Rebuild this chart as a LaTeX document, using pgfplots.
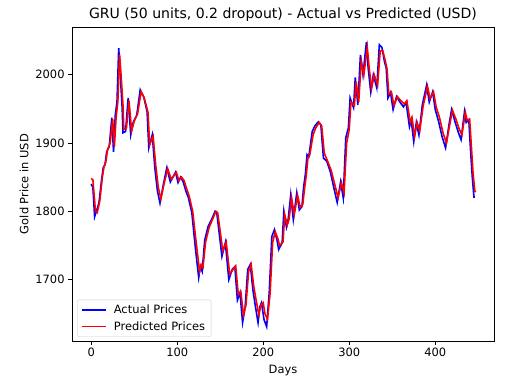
\documentclass[border=0pt]{standalone}
\usepackage{pgfplots}
\pgfplotsset{compat=1.18}
\usepackage{fontspec}
\setmainfont{DejaVu Sans}
\begin{document}
\begin{tikzpicture}
\begin{axis}[
  scale only axis,
  width=422bp, height=314bp,
  xmin=-22.3, xmax=468.3,
  ymin=1610, ymax=2070,
  xtick={0,100,200,300,400},
  ytick={1700,1800,1900,2000},
  tick align=outside,
  tick pos=left,
  major tick length=3.9bp,
  every tick/.style={black, line width=0.7bp},
  axis line style={line width=0.7bp},
  /pgf/number format/assume math mode=true,
  /pgf/number format/set thousands separator={},
  tick label style={font=\fontsize{11.5}{13}\selectfont},
  label style={font=\fontsize{11.5}{13}\selectfont},
  xlabel={Days},
  ylabel={Gold Price in USD},
  xlabel style={yshift=-1bp},
  title={GRU (50 units, 0.2 dropout) - Actual vs Predicted (USD)},
  title style={font=\fontsize{14.1}{16}\selectfont, yshift=-4bp},
  legend cell align=left,
  legend style={at={(0.012,0.013)}, anchor=south west, draw=black!20, rounded corners=2bp, fill=white, fill opacity=0.8, text opacity=1, font=\fontsize{11.5}{13}\selectfont, inner xsep=4bp, inner ysep=3bp, row sep=2.5bp, column sep=5bp},
  legend image code/.code={\draw[#1, line width=1.6bp] (0bp,0bp) -- (24bp,0bp);},
]
\addplot[blue, line width=1.6bp] coordinates {
(0,1840) (2,1835) (4,1792) (6,1800) (9,1812) (12,1845) (14,1864) (16,1868) (18,1887) (21,1895)
(24,1937) (26,1887) (28,1941) (30,1960) (32,2039) (34,1996) (36,1952) (37,1915) (40,1917) (43,1966)
(46,1912) (49,1931) (53,1941) (57,1978) (61,1968) (65,1946) (67,1893) (71,1912) (74,1864) (77,1830)
(80,1812) (84,1840) (88,1864) (92,1843) (95,1850) (98,1857) (101,1842) (104,1850) (107,1843) (110,1830)
(113,1820) (117,1798) (121,1748) (125,1703) (127,1719) (129,1712) (132,1758) (136,1778) (140,1788) (144,1800)
(146,1798) (148,1777) (152,1734) (156,1754) (160,1700) (164,1715) (167,1719) (170,1670) (173,1681) (176,1637)
(179,1660) (182,1715) (185,1722) (188,1685) (191,1660) (194,1637) (196,1660) (198,1666) (201,1641) (204,1631)
(207,1681) (210,1763) (213,1773) (216,1758) (218,1744) (222,1754) (224,1800) (227,1777) (229,1788) (232,1824)
(235,1788) (239,1827) (242,1802) (245,1807) (247,1836) (249,1854) (251,1883) (253,1880) (257,1917) (260,1925)
(264,1931) (267,1927) (270,1878) (274,1873) (278,1858) (282,1835) (286,1813) (290,1843) (293,1820) (296,1908)
(299,1922) (301,1966) (305,1952) (307,1996) (310,1956) (313,2029) (316,2000) (320,2048) (322,2010) (325,1975)
(328,2000) (332,1981) (335,2044) (338,2040) (341,2019) (343,2010) (345,1966) (348,1974) (351,1949) (355,1968)
(359,1960) (363,1953) (366,1960) (370,1924) (372,1934) (375,1902) (378,1930) (381,1912) (385,1956) (390,1985)
(393,1960) (397,1975) (400,1949) (404,1931) (408,1909) (412,1893) (416,1927) (419,1949) (423,1931) (427,1915)
(430,1905) (434,1946) (436,1930) (439,1934) (441,1890) (443,1851) (445,1821) (446,1821)
};
\addlegendentry{Actual Prices}
\addplot[red, line width=1.6bp] coordinates {
(0,1848) (2,1846) (5,1800) (7,1798) (10,1815) (13,1850) (15,1866) (17,1872) (19,1890) (22,1900)
(25,1935) (27,1895) (29,1938) (31,1960) (33,2030) (35,1995) (37,1955) (38,1920) (41,1922) (44,1962)
(47,1918) (50,1932) (54,1943) (58,1975) (62,1965) (66,1945) (68,1898) (72,1910) (75,1868) (78,1835)
(81,1818) (85,1842) (89,1862) (93,1847) (96,1852) (99,1857) (102,1845) (105,1850) (108,1845) (111,1833)
(114,1822) (118,1800) (122,1755) (126,1712) (128,1722) (130,1718) (133,1755) (137,1776) (141,1788) (145,1800)
(147,1798) (149,1780) (153,1742) (157,1755) (161,1708) (165,1715) (168,1720) (171,1678) (174,1682) (177,1648)
(180,1663) (183,1712) (186,1722) (189,1690) (192,1668) (195,1648) (197,1662) (200,1666) (202,1650) (205,1642)
(208,1680) (211,1755) (214,1770) (217,1760) (219,1750) (223,1755) (225,1795) (228,1780) (230,1788) (233,1820)
(236,1795) (240,1823) (243,1806) (246,1810) (248,1833) (250,1852) (252,1878) (254,1882) (258,1912) (261,1922)
(265,1930) (268,1925) (271,1885) (275,1873) (279,1860) (283,1840) (287,1820) (291,1842) (294,1827) (297,1900)
(300,1920) (302,1960) (306,1955) (308,1990) (311,1960) (314,2020) (317,2000) (321,2040) (323,2012) (326,1980)
(329,2000) (333,1985) (336,2035) (339,2035) (342,2020) (344,2008) (346,1972) (349,1975) (352,1955) (356,1968)
(360,1962) (364,1957) (367,1962) (371,1930) (373,1937) (376,1910) (379,1930) (382,1918) (386,1955) (391,1983)
(394,1965) (398,1975) (401,1953) (405,1937) (409,1915) (413,1900) (417,1928) (420,1948) (424,1935) (428,1920)
(431,1912) (435,1945) (437,1934) (440,1935) (442,1895) (444,1855) (446,1830) (447,1828)
};
\addlegendentry{Predicted Prices}
\end{axis}
\path (-72bp,-42bp) rectangle (444bp,341bp);
\end{tikzpicture}
\end{document}
